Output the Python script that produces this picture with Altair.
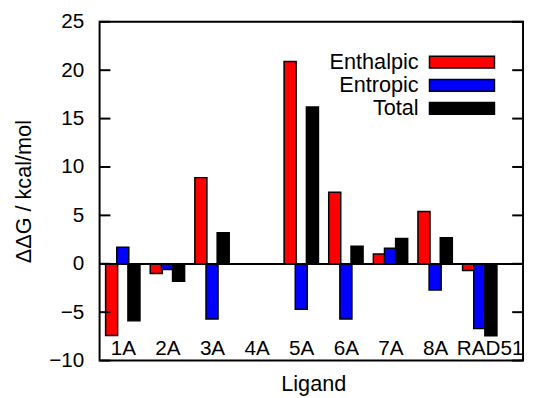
import altair as alt
import pandas as pd

ligands = ["1A", "2A", "3A", "4A", "5A", "6A", "7A", "8A", "RAD51"]
series_names = ["Enthalpic", "Entropic", "Total"]
series_colors = ["#ff0000", "#0000ff", "#000000"]
enthalpic = [-7.4, -1.0, 8.9, 0.0, 20.9, 7.4, 1.0, 5.4, -0.7]
entropic = [1.7, -0.6, -5.7, 0.0, -4.7, -5.7, 1.6, -2.7, -6.7]
total = [-5.9, -1.8, 3.2, 0.0, 16.2, 1.8, 2.6, 2.7, -7.45]
y_ticks = [-10, -5, 0, 5, 10, 15, 20, 25]

FONT = "Liberation Sans"

rows = []
for s_i, (name, vals) in enumerate(zip(series_names, [enthalpic, entropic, total])):
    for i, (lig, v) in enumerate(zip(ligands, vals)):
        rows.append({"ligand": lig, "idx": i, "sidx": s_i, "series": name, "value": v})
df = pd.DataFrame(rows)
df_ticks = pd.DataFrame({"value": y_ticks})

xscale = alt.Scale(domain=[-0.52, 8.97], nice=False, zero=False)
yscale = alt.Scale(domain=[-10, 25], nice=False, zero=False)

label_js = "[" + ",".join("'%s'" % l for l in ligands) + "]"
x_values = list(range(len(ligands) - 1)) + [len(ligands) - 1 + 0.22]

y_axis = alt.Axis(
    values=y_ticks, ticks=False, domain=False, grid=False,
    labelPadding=16, labelFontSize=21, labelFont=FONT, labelColor="black",
    title="ΔΔG / kcal/mol", titleX=-77, titleY=172, titleAngle=270,
    titleBaseline="middle", titleAlign="center",
    titleFontSize=22, titleFont=FONT, titleFontWeight="normal", titleColor="black",
)

bars = alt.Chart(df).transform_calculate(
    x0="datum.idx + (datum.sidx - 1) * 0.25 - 0.135",
    x1="datum.idx + (datum.sidx - 1) * 0.25 + 0.135",
).mark_rect(stroke="black", strokeWidth=1.5).encode(
    x=alt.X("x0:Q", scale=xscale, axis=alt.Axis(
        values=x_values,
        labelExpr=label_js + "[round(datum.value)]",
        ticks=False, domain=False, grid=False,
        offset=-12, labelPadding=0, labelBaseline="middle",
        labelFlush=False, labelOverlap=False,
        labelFontSize=21, labelFont=FONT, labelColor="black",
        title="Ligand", titleX=217, titleAlign="center", titleY=35, titleBaseline="middle",
        titleFontSize=22, titleFont=FONT, titleFontWeight="normal", titleColor="black",
    )),
    x2="x1:Q",
    y=alt.Y("value:Q", scale=yscale, axis=y_axis),
    y2=alt.datum(0),
    color=alt.Color("series:N", sort=series_names,
                    scale=alt.Scale(domain=series_names, range=series_colors),
                    legend=alt.Legend(
                        orient="none", legendX=357, legendY=30, title=None,
                        symbolType="M-5.5,-1H5.5V1H-5.5Z", symbolSize=144,
                        symbolStrokeColor="black", symbolStrokeWidth=1.5,
                        symbolOpacity=1,
                        labelAlign="right", labelOffset={"expr": "-55"},
                        labelFontSize=22, labelFont=FONT, labelColor="black",
                        rowPadding=1.5, padding=0,
                    )),
)

zero = alt.Chart(df).mark_rule(color="black", strokeWidth=1.5).encode(
    y=alt.datum(0, scale=yscale)
)

left_ticks = alt.Chart(df_ticks).mark_rule(color="black", strokeWidth=2).encode(
    y=alt.Y("value:Q", scale=yscale, axis=y_axis),
    x=alt.value(0), x2=alt.value(11),
)
right_ticks = alt.Chart(df_ticks).mark_rule(color="black", strokeWidth=2).encode(
    y=alt.Y("value:Q", scale=yscale, axis=y_axis),
    x=alt.value(419), x2=alt.value(430),
)

chart = alt.layer(bars, zero, left_ticks, right_ticks).properties(
    width=430, height=344,
    autosize=alt.AutoSizeParams(type="none"),
    padding={"left": 93, "top": 11, "right": 2, "bottom": 35},
).configure_view(stroke="black", strokeWidth=2)

chart.save("out.html", embed_options={"renderer": "svg", "actions": False})
